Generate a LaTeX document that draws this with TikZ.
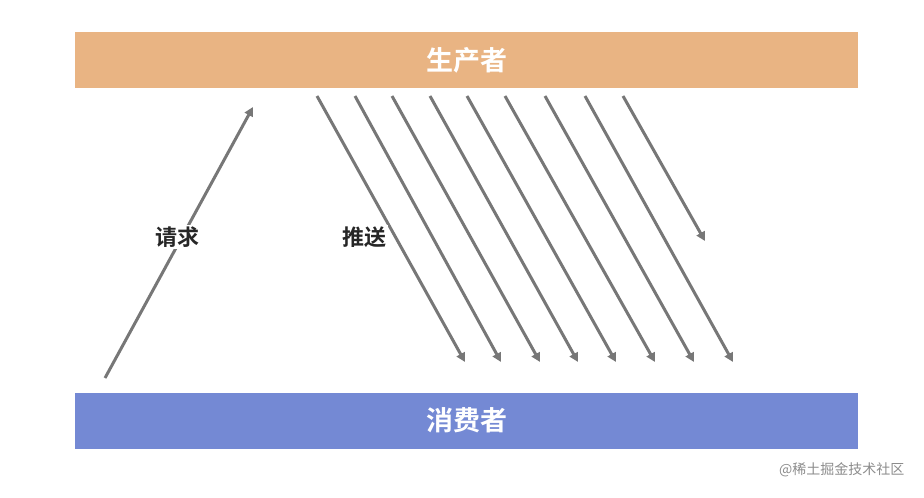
\documentclass[tikz,border=0pt]{standalone}
\usepackage{fontspec}
\newfontfamily\cjk{Noto Sans CJK SC}
\newfontfamily\cjkb{Noto Sans CJK SC Bold}
\usetikzlibrary{arrows.meta}
\definecolor{prodc}{HTML}{E9B483}
\definecolor{consc}{HTML}{7489D4}
\definecolor{arrc}{HTML}{777777}
\tikzset{
  bar/.style={minimum width=783pt,minimum height=56pt,inner sep=0pt,text=white,font=\cjkb\fontsize{27}{30}\selectfont},
  arr/.style={draw=arrc,line width=3pt,-{Triangle[length=9pt,width=9pt]}},
  lbl/.style={fill=white,inner sep=2pt,font=\cjkb\fontsize{22}{26}\selectfont,text=black!85}
}
\begin{document}
\begin{tikzpicture}[x=1pt,y=-1pt]
\useasboundingbox (0,0) rectangle (924,498);
\node[bar,fill=prodc] (prod) at (466.5,60) {生产者};
\node[bar,fill=consc] (cons) at (466.5,420.5) {消费者};
\coordinate (rs) at (105,378);
\coordinate (re) at (253,107);
\draw[arr] (rs) -- (re);
\node[lbl] (req) at (177,237) {请求};
\foreach \i/\sx/\ex in {1/317/465,2/355/501,3/392/540,4/430/578,5/467/616,6/505/655,7/545/694,8/585/733}{
  \coordinate (s\i) at (\sx,96);
  \coordinate (e\i) at (\ex,362);
  \draw[arr] (s\i) -- (e\i);
}
\coordinate (s9) at (623,96);
\coordinate (e9) at (705,241);
\draw[arr] (s9) -- (e9);
\node[lbl] (push) at (364,237) {推送};
\node[font=\cjk\fontsize{14}{16}\selectfont,text=black!45,anchor=east] (wm) at (908,470) {@稀土掘金技术社区};
\end{tikzpicture}
\end{document}
